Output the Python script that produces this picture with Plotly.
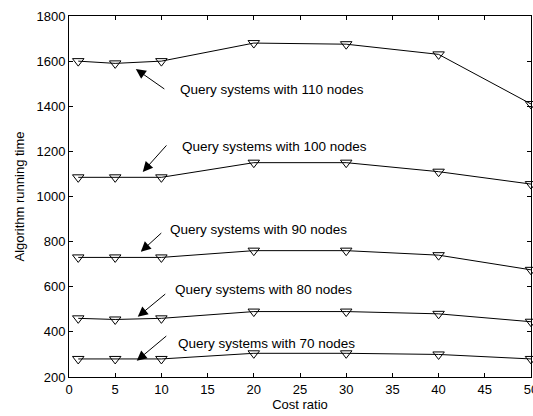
import plotly.graph_objects as go

cost_ratio = [1, 5, 10, 20, 30, 40, 50]
nodes_110 = [1600, 1590, 1600, 1680, 1675, 1630, 1410]
nodes_100 = [1085, 1085, 1085, 1150, 1150, 1110, 1055]
nodes_90 = [730, 730, 730, 760, 760, 740, 675]
nodes_80 = [460, 455, 460, 490, 490, 480, 445]
nodes_70 = [280, 280, 280, 305, 305, 300, 280]

series = [nodes_110, nodes_100, nodes_90, nodes_80, nodes_70]
labels = ["Query systems with 110 nodes", "Query systems with 100 nodes",
          "Query systems with 90 nodes", "Query systems with 80 nodes",
          "Query systems with 70 nodes"]

# annotation layout (data coords): text anchor, arrow tail, arrow head
text_pos = [(11.78, 1475), (12.0, 1220), (10.69, 852), (11.24, 586), (11.56, 347)]
arrow_tail = [(10.48, 1472), (10.69, 1233), (10.15, 844), (10.58, 573), (10.69, 387)]
arrow_head = [(7.23, 1565), (7.98, 1109), (7.77, 755), (7.44, 467), (7.33, 272)]

font = "Liberation Sans, Arial, sans-serif"

fig = go.Figure()
for ys in series:
    fig.add_trace(go.Scatter(
        x=cost_ratio, y=ys, mode="lines+markers",
        line=dict(color="black", width=1),
        marker=dict(symbol="triangle-down-open", size=10, color="black",
                    line=dict(width=1)),
        showlegend=False, cliponaxis=False))

annotations = []
for lab, tp, tl, hd in zip(labels, text_pos, arrow_tail, arrow_head):
    annotations.append(dict(x=tp[0], y=tp[1], xref="x", yref="y", text=lab,
                            showarrow=False, xanchor="left", yanchor="middle",
                            font=dict(family=font, size=13.5, color="black")))
    annotations.append(dict(x=hd[0], y=hd[1], ax=tl[0], ay=tl[1], xref="x", yref="y",
                            axref="x", ayref="y", text="", showarrow=True,
                            arrowhead=2, arrowsize=2, arrowwidth=1,
                            arrowcolor="black"))

axis_common = dict(showline=True, linecolor="black", linewidth=1, mirror="ticks",
                   ticks="inside", ticklen=4, tickcolor="black", showgrid=False,
                   zeroline=False, automargin=False, ticklabeloverflow="allow",
                   tickfont=dict(family=font, size=13, color="black"))

fig.update_layout(
    width=533, height=416,
    margin=dict(l=69, r=2, t=16, b=39),
    paper_bgcolor="white", plot_bgcolor="white",
    annotations=annotations,
    xaxis=dict(range=[0, 50], dtick=5, tick0=0,
               title=dict(text="Cost ratio", standoff=2,
                          font=dict(family=font, size=13, color="black")),
               **axis_common),
    yaxis=dict(range=[200, 1800], dtick=200, tick0=200,
               title=dict(text="Algorithm running time", standoff=8,
                          font=dict(family=font, size=13, color="black")),
               **axis_common),
)

fig.write_html("out.html")
